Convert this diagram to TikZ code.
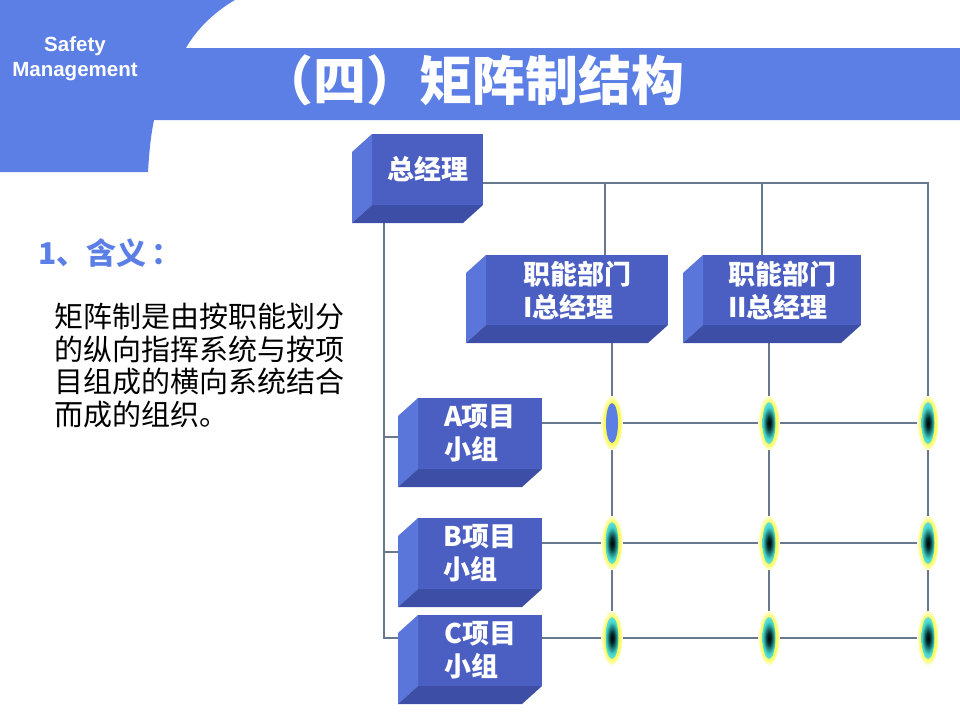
\documentclass[tikz,border=0pt]{standalone}
\usepackage{fontspec}
\setmainfont{Noto Sans CJK SC}
\newfontfamily\latinfont{Liberation Sans}
\usetikzlibrary{positioning, shapes.geometric, backgrounds}

\definecolor{headblue}{RGB}{92,127,230}
\definecolor{boxfront}{RGB}{75,95,195}
\definecolor{boxleft}{RGB}{90,118,218}
\definecolor{boxbottom}{RGB}{60,78,165}
\definecolor{wirecol}{RGB}{105,120,140}
\definecolor{glowcyan}{RGB}{70,215,205}
\definecolor{glowyellow}{RGB}{250,250,90}

% the shaded path's border sits at 25bp
\pgfdeclareradialshading{glowring}{\pgfpoint{0bp}{0bp}}{%
  color(0bp)=(glowyellow); color(19bp)=(glowyellow);
  color(25bp)=(glowyellow!25!white); color(50bp)=(white)}
\pgfdeclareradialshading{coredark}{\pgfpoint{0bp}{0bp}}{%
  color(0bp)=(black); color(5bp)=(black!65!teal); color(15bp)=(glowcyan);
  color(22bp)=(glowcyan!70!white); color(25bp)=(glowcyan!40!white); color(50bp)=(glowcyan!40!white)}

\tikzset{%
   % front face of a block, the text sits in it
   front/.style={
      fill=boxfront,
      text=white,
      font=\bfseries\fontsize{27}{33}\selectfont,
      align=left,
      inner sep=0pt,
      outer sep=0pt
   },
   wire/.style={
      draw=wirecol,
      line width=1.1pt
   },
   % crossing point: yellow glow with a dark core
   knot/.style={
      ellipse,
      inner sep=0pt,
      minimum width=21pt,
      minimum height=54pt,
      shading=glowring,
      path picture={\shade[shading=coredark] (path picture bounding box.center)
         ellipse [x radius=6.5, y radius=21];}
   },
   knotblue/.style={
      ellipse,
      inner sep=0pt,
      minimum width=21pt,
      minimum height=54pt,
      shading=glowring,
      path picture={\fill[headblue] (path picture bounding box.center)
         ellipse [x radius=6, y radius=20];}
   },
}
% left and bottom sides of a block, depth (-20,18)
\newcommand\bevel[1]{%
  \fill[boxleft] (#1.north west) -- ++(-20,18)
     -- ([shift={(-20,18)}]#1.south west) -- (#1.south west) -- cycle;
  \fill[boxbottom] (#1.south west) -- ++(-20,18)
     -- ([shift={(-20,18)}]#1.south east) -- (#1.south east) -- cycle;}

\begin{document}
\begin{tikzpicture}[x=1pt, y=-1pt]
  \useasboundingbox (0,0) rectangle (960,720);

  % header band
  \fill[headblue] (0,0) -- (235,0) .. controls (214,12) and (196,30) .. (186,48)
     -- (960,48) -- (960,120) -- (154,120) .. controls (150,140) and (149,156) .. (148,172)
     -- (0,172) -- cycle;
  \node[text=white, font=\latinfont\bfseries\fontsize{20.5}{25}\selectfont, align=center]
     (brand) at (75,59) {Safety\\Management};
  \node[text=white, font=\bfseries\fontsize{53}{58}\selectfont] (title) at (472,80)
     {（四）矩阵制结构};

  % left text
  \node[text=headblue, font=\bfseries\fontsize{30}{32}\selectfont, anchor=west, inner sep=0pt]
     (head) at (38,253) {1、含义\,：};
  \node[font=\fontsize{29}{32.5}\selectfont, align=left, anchor=north west, inner sep=0pt]
     (para) at (54,303) {矩阵制是由按职能划分\\的纵向指挥系统与按项\\目组成的横向系统结合\\而成的组织。};

  % blocks
  \node[front, minimum width=111pt, minimum height=71pt] (gm) at (427.5,169.5) {总经理};
  \node[front, minimum width=182pt, minimum height=70pt] (f1) at (577,290) {职能部门\\I总经理};
  \node[front, minimum width=158pt, minimum height=70pt] (f2) at (782,290) {职能部门\\II总经理};
  \node[front, minimum width=124pt, minimum height=71pt] (pa) at (480,433.5) {A项目\\小组};
  \node[front, minimum width=124pt, minimum height=71pt] (pb) at (480,553.5) {B项目\\小组};
  \node[front, minimum width=124pt, minimum height=71pt] (pc) at (480,650.5) {C项目\\小组};
  \foreach \b in {gm,f1,f2,pa,pb,pc} {\bevel{\b}}

  % crossing points
  \node[knotblue] (e11) at (612,423) {};
  \node[knot] (e12) at (769,423) {};
  \node[knot] (e13) at (928,423) {};
  \node[knot] (e21) at (612,543) {};
  \node[knot] (e22) at (769,543) {};
  \node[knot] (e23) at (928,543) {};
  \node[knot] (e31) at (612,638) {};
  \node[knot] (e32) at (769,638) {};
  \node[knot] (e33) at (928,638) {};

  \begin{scope}[on background layer]
    \draw[wire] ([shift={(12,18)}]gm.south west) |- ([shift={(0,3.5)}]pa.west);
    \draw[wire] ([shift={(12,18)}]gm.south west) |- ([shift={(0,-1.5)}]pb.west);
    \draw[wire] ([shift={(12,18)}]gm.south west) |- ([shift={(0,-12.5)}]pc.west);
    \draw[wire] ([shift={(0,13.5)}]gm.east) -| (e13);
    \draw[wire] ([xshift=28]f1.north) |- ([shift={(0,13.5)}]gm.east);
    \draw[wire] ([xshift=-20]f2.north) |- ([shift={(0,13.5)}]gm.east);
    \draw[wire] ([xshift=35]f1.south) -- (e11) -- (e21) -- (e31);
    \draw[wire] ([xshift=-13]f2.south) -- (e12) -- (e22) -- (e32);
    \draw[wire] (e13) -- (e23) -- (e33);
    \draw[wire] ([shift={(0,-10.5)}]pa.east) -- (e11) -- (e12) -- (e13);
    \draw[wire] ([shift={(0,-10.5)}]pb.east) -- (e21) -- (e22) -- (e23);
    \draw[wire] ([shift={(0,-12.5)}]pc.east) -- (e31) -- (e32) -- (e33);
  \end{scope}
\end{tikzpicture}
\end{document}
